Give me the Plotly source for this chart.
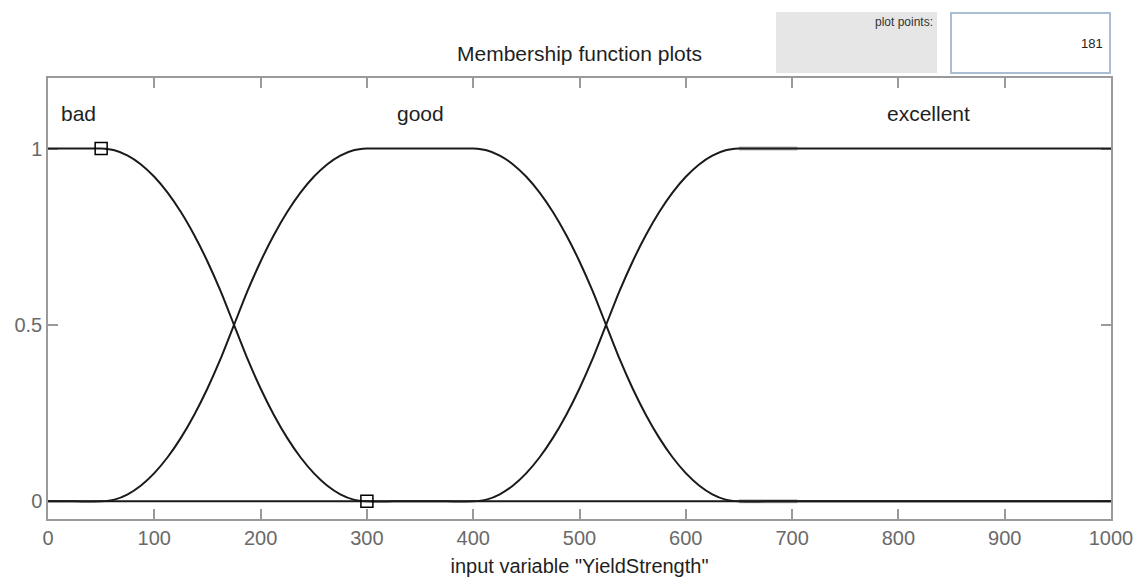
import plotly.graph_objects as go

# ---- data ----
x_pts = [0, 25,
         50, 62.5, 75, 87.5, 100, 112.5, 125, 137.5, 150, 162.5, 175, 187.5, 200, 212.5,
         225, 237.5, 250, 262.5, 275, 287.5, 300,
         325, 350, 375,
         400, 412.5, 425, 437.5, 450, 462.5, 475, 487.5, 500, 512.5, 525, 537.5, 550,
         562.5, 575, 587.5, 600, 612.5, 625, 637.5, 650,
         675, 700, 725, 750, 775, 800, 825, 850, 875, 900, 925, 950, 975, 1000]
bad = [1, 1,
       1, 0.995, 0.98, 0.955, 0.92, 0.875, 0.82, 0.755, 0.68, 0.595, 0.5, 0.405, 0.32, 0.245,
       0.18, 0.125, 0.08, 0.045, 0.02, 0.005, 0,
       0, 0, 0,
       0, 0, 0, 0, 0, 0, 0, 0, 0, 0, 0, 0, 0, 0, 0, 0, 0, 0, 0, 0, 0,
       0, 0, 0, 0, 0, 0, 0, 0, 0, 0, 0, 0, 0, 0]
good = [0, 0,
        0, 0.005, 0.02, 0.045, 0.08, 0.125, 0.18, 0.245, 0.32, 0.405, 0.5, 0.595, 0.68, 0.755,
        0.82, 0.875, 0.92, 0.955, 0.98, 0.995, 1,
        1, 1, 1,
        1, 0.995, 0.98, 0.955, 0.92, 0.875, 0.82, 0.755, 0.68, 0.595, 0.5, 0.405, 0.32,
        0.245, 0.18, 0.125, 0.08, 0.045, 0.02, 0.005, 0,
        0, 0, 0, 0, 0, 0, 0, 0, 0, 0, 0, 0, 0, 0]
excellent = [0, 0,
             0, 0, 0, 0, 0, 0, 0, 0, 0, 0, 0, 0, 0, 0, 0, 0, 0, 0, 0, 0, 0,
             0, 0, 0,
             0, 0.005, 0.02, 0.045, 0.08, 0.125, 0.18, 0.245, 0.32, 0.405, 0.5, 0.595, 0.68,
             0.755, 0.82, 0.875, 0.92, 0.955, 0.98, 0.995, 1,
             1, 1, 1, 1, 1, 1, 1, 1, 1, 1, 1, 1, 1, 1]
mf_names = ["bad", "good", "excellent"]
label_x = [10, 350, 828]
label_y = [1.1, 1.1, 1.1]
marker_x = [50, 300]
marker_y = [1, 0]
residual_x = [650, 705]
residual_top = [1, 1]
residual_bottom = [0, 0]
x_ticks = [0, 100, 200, 300, 400, 500, 600, 700, 800, 900, 1000]
y_ticks = [0, 0.5, 1]
y_tick_text = ["0", "0.5", "1"]
plot_points = "181"

FONT = "Liberation Sans, Arial, sans-serif"
fig = go.Figure()

for ys in (residual_top, residual_bottom):
    fig.add_trace(go.Scatter(x=residual_x, y=ys, mode="lines",
                             line=dict(color="#b8b8b8", width=4),
                             hoverinfo="skip", showlegend=False))

for name, ys in zip(mf_names, [bad, good, excellent]):
    fig.add_trace(go.Scatter(x=x_pts, y=ys, mode="lines", name=name,
                             line=dict(color="#1a1a1a", width=2, shape="spline", smoothing=0.6),
                             showlegend=False))

fig.add_trace(go.Scatter(x=marker_x, y=marker_y, mode="markers",
                         marker=dict(symbol="square-open", size=12, color="black",
                                     line=dict(width=1.5, color="black")),
                         showlegend=False))

for name, lx, ly in zip(mf_names, label_x, label_y):
    fig.add_annotation(x=lx, y=ly, xref="x", yref="y", text=name, showarrow=False,
                       xanchor="left" if name == "bad" else "center", yanchor="middle",
                       font=dict(family=FONT, size=21, color="#1f1f1f"))

# figure fills the window; plot area in pixels: x 48..1111, y 78..519
W, H = 1142, 582
L, T, R, B = 48, 78, W - 1111, H - 519
pw, ph = W - L - R, H - T - B
px = lambda p: (p - L) / pw
py = lambda p: (H - B - p) / ph

fig.add_shape(type="rect", xref="paper", yref="paper",
              x0=px(776), x1=px(937), y0=py(73), y1=py(12),
              fillcolor="#e6e6e6", line=dict(width=0))
fig.add_shape(type="rect", xref="paper", yref="paper",
              x0=px(951), x1=px(1110), y0=py(73), y1=py(13),
              fillcolor="white", line=dict(width=2, color="#a9bdd3"))
fig.add_annotation(xref="paper", yref="paper", x=px(935), y=py(22), text="plot points:",
                   showarrow=False, xanchor="right", yanchor="middle",
                   font=dict(family=FONT, size=12, color="#333"))
fig.add_annotation(xref="paper", yref="paper", x=px(1105), y=py(44), text=plot_points,
                   showarrow=False, xanchor="right", yanchor="middle",
                   font=dict(family=FONT, size=13, color="#222"))
fig.add_annotation(xref="paper", yref="paper", x=0.5, y=py(53),
                   text="Membership function plots", showarrow=False,
                   xanchor="center", yanchor="middle",
                   font=dict(family=FONT, size=21, color="#1f1f1f"))

axis_common = dict(showgrid=False, zeroline=False, showline=True, mirror="ticks",
                   linecolor="#9a9a9a", linewidth=1.5, ticks="inside", ticklen=10,
                   tickcolor="#9a9a9a", tickwidth=1.5, layer="below traces",
                   automargin=False,
                   tickfont=dict(family=FONT, size=20, color="#6a6a6a"))
fig.update_xaxes(range=[0, 1000], tickvals=x_ticks, **axis_common,
                 title=dict(text='input variable "YieldStrength"', standoff=11,
                            font=dict(family=FONT, size=20, color="#1f1f1f")))
fig.update_yaxes(range=[-0.05, 1.2], tickvals=y_ticks, ticktext=y_tick_text, **axis_common)

fig.update_layout(width=W, height=H, margin=dict(l=L, r=R, t=T, b=B),
                  paper_bgcolor="white", plot_bgcolor="white")
fig.write_html("out.html", config={"displayModeBar": False},
               post_script="document.body.style.margin='0';document.body.style.overflow='hidden';")
